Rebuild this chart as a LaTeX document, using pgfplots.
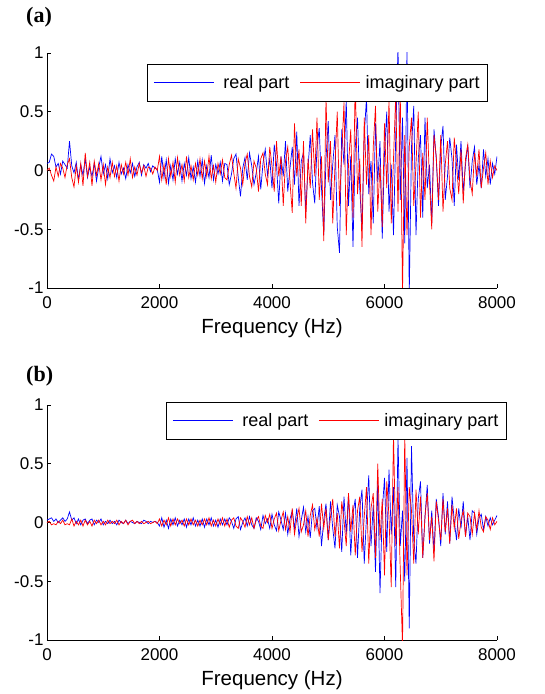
\documentclass[border=0pt]{standalone}
\usepackage{pgfplots}
\usepackage{pgfplotstable}
\pgfplotsset{compat=1.18}
\usepackage{fontspec}
\setmainfont{Liberation Sans}
\newfontfamily\seriffont{Liberation Serif}

\pgfplotstableread{
f ar ai br bi
0 0.06 0.00 0.02 0.00
40 0.07 0.02 0.03 0.01
80 0.14 -0.04 0.04 -0.02
120 0.12 -0.09 0.01 -0.01
160 0.03 0.03 0.03 -0.02
200 0.06 -0.05 0.00 0.01
240 -0.03 0.06 0.02 -0.01
280 0.08 0.02 0.04 0.02
320 0.05 -0.06 0.01 -0.02
360 0.02 0.05 0.03 -0.01
400 0.25 0.10 0.09 -0.02
440 0.04 -0.06 0.02 0.03
480 -0.02 -0.14 0.04 -0.03
520 0.07 0.04 -0.01 0.01
560 -0.08 -0.10 0.03 -0.02
600 0.05 0.06 -0.02 0.02
640 -0.04 -0.13 0.02 -0.03
680 0.10 0.15 0.03 0.02
720 -0.06 -0.05 -0.01 -0.02
760 0.03 0.07 0.02 0.01
800 -0.05 -0.13 0.03 -0.03
840 0.06 0.08 -0.02 0.02
880 -0.09 -0.04 0.02 -0.01
920 0.03 0.06 0.00 0.02
960 0.12 -0.08 0.03 -0.02
1000 -0.03 0.05 -0.02 0.01
1040 0.05 -0.12 0.01 -0.02
1080 -0.07 0.03 -0.01 0.02
1120 0.10 -0.06 0.02 -0.01
1160 -0.02 0.07 -0.01 0.01
1200 0.04 -0.05 0.01 -0.01
1240 -0.06 0.04 -0.02 0.02
1280 0.07 -0.09 0.02 -0.02
1320 -0.03 0.05 0.00 0.01
1360 0.02 -0.03 -0.01 -0.01
1400 -0.07 0.07 0.02 0.02
1440 0.05 -0.04 -0.01 -0.02
1480 -0.02 0.10 0.01 0.01
1520 0.06 -0.06 0.00 0.02
1560 -0.05 0.03 -0.01 -0.01
1600 0.03 -0.04 0.01 0.01
1640 0.07 0.06 0.00 -0.01
1680 -0.04 -0.02 -0.01 0.01
1720 0.05 0.04 0.02 -0.01
1760 0.02 -0.05 0.01 0.00
1800 0.06 0.03 -0.01 0.01
1840 -0.01 0.02 0.01 -0.01
1880 0.04 -0.03 0.00 0.00
1920 0.02 0.03 0.01 0.01
1960 0.01 0.00 0.00 -0.01
2000 -0.10 0.12 -0.03 0.03
2040 0.12 -0.08 0.04 -0.03
2080 -0.06 0.05 -0.04 0.02
2120 0.09 -0.12 0.02 -0.02
2160 -0.11 0.10 -0.05 0.04
2200 0.04 -0.05 0.03 -0.03
2240 -0.08 0.07 -0.02 0.03
2280 0.10 -0.10 0.04 -0.02
2320 -0.03 0.11 -0.03 0.03
2360 0.07 -0.04 0.02 -0.01
2400 -0.09 0.05 -0.02 0.02
2440 0.06 -0.09 0.03 -0.03
2480 -0.04 0.12 -0.04 0.03
2520 0.11 -0.06 0.03 -0.02
2560 -0.07 0.04 -0.02 0.03
2600 0.03 -0.08 0.04 -0.02
2640 -0.10 0.06 -0.03 0.02
2680 0.08 -0.04 0.02 -0.03
2720 -0.05 0.10 -0.03 0.02
2760 0.09 -0.07 0.03 -0.02
2800 -0.11 0.08 -0.04 0.03
2840 0.04 -0.05 0.03 -0.02
2880 -0.06 0.12 -0.02 0.04
2920 0.13 -0.07 0.04 -0.03
2960 -0.08 0.04 -0.03 0.02
3000 0.05 -0.10 0.02 -0.03
3040 -0.03 0.06 -0.04 0.03
3080 0.07 -0.03 0.03 -0.02
3120 -0.09 0.09 -0.02 0.04
3160 0.06 -0.06 0.03 -0.03
3200 0.05 -0.08 -0.02 0.03
3240 -0.12 0.05 0.04 -0.04
3280 -0.03 0.13 0.01 0.02
3320 0.10 -0.02 -0.05 0.04
3360 0.14 -0.15 0.03 -0.03
3400 -0.06 0.10 0.05 -0.05
3440 -0.22 0.02 -0.06 0.04
3480 0.02 -0.12 0.00 0.01
3520 0.11 0.06 0.04 -0.04
3560 -0.08 0.14 -0.03 0.05
3600 0.15 -0.05 0.05 -0.02
3640 0.04 -0.14 -0.02 0.04
3680 -0.12 0.08 -0.05 -0.05
3720 -0.02 0.02 0.04 0.02
3760 0.12 -0.18 0.01 0.05
3800 -0.16 0.10 -0.06 -0.03
3840 0.06 0.15 0.06 -0.05
3880 0.18 -0.03 -0.01 0.06
3920 -0.04 -0.12 0.03 0.00
3960 0.10 0.20 -0.05 0.07
4000 -0.15 0.04 0.07 -0.05
4040 0.22 -0.18 -0.02 0.03
4080 0.05 0.25 -0.07 0.08
4120 -0.28 -0.05 0.09 -0.07
4160 0.12 0.12 0.02 0.02
4200 -0.05 -0.30 -0.06 0.09
4240 0.25 0.08 0.08 -0.06
4280 -0.18 0.20 -0.10 0.05
4320 0.02 -0.10 0.03 -0.08
4360 0.20 -0.36 0.10 0.12
4400 -0.12 0.40 -0.05 -0.10
4440 0.33 -0.05 0.12 0.03
4480 -0.30 0.18 -0.12 0.12
4520 0.08 -0.30 0.02 -0.08
4560 0.15 0.25 0.13 -0.02
4600 -0.35 -0.45 -0.08 0.10
4640 0.02 0.10 0.05 -0.12
4680 0.30 -0.15 -0.13 0.06
4720 -0.10 0.35 0.10 0.15
4760 -0.28 -0.05 0.12 -0.06
4800 0.20 0.45 -0.05 0.04
4840 0.36 -0.25 0.14 -0.12
4880 -0.15 0.12 -0.20 0.16
4920 -0.55 -0.60 0.02 -0.05
4960 0.10 0.62 0.16 0.12
5000 0.42 -0.10 -0.15 -0.15
5040 -0.25 0.25 0.18 0.05
5080 0.05 -0.45 -0.05 0.20
5120 0.30 0.05 -0.22 -0.12
5160 -0.48 0.50 0.15 0.08
5200 -0.70 -0.30 0.05 -0.22
5240 0.35 0.15 -0.25 0.18
5280 0.05 0.58 0.22 0.02
5320 0.60 -0.55 -0.10 -0.20
5360 -0.30 0.05 0.24 0.25
5400 0.12 0.35 -0.28 -0.08
5440 -0.65 -0.40 0.08 0.15
5480 0.20 0.78 0.20 -0.28
5520 0.45 -0.20 -0.30 0.10
5560 -0.15 0.10 0.12 0.22
5600 -0.50 -0.65 0.28 -0.25
5640 0.30 0.45 -0.35 0.05
5680 0.62 -0.12 0.05 0.30
5720 -0.20 0.30 0.40 -0.35
5760 0.08 -0.55 -0.20 0.12
5800 -0.45 0.20 0.15 0.25
5840 0.40 0.55 -0.42 -0.30
5880 -0.10 -0.35 0.35 0.50
5920 0.25 0.05 -0.60 -0.15
5960 -0.58 -0.48 0.10 0.20
6000 0.15 0.40 0.38 -0.45
6040 0.50 -0.15 -0.25 0.35
6080 -0.35 0.60 0.45 0.05
6120 0.05 -0.45 -0.10 -0.55
6160 -0.55 0.10 0.30 0.75
6200 0.30 0.65 -0.55 -0.20
6240 1.05 -0.35 0.72 0.30
6280 -0.25 0.68 -0.20 -0.40
6320 0.45 -1.05 0.10 -1.05
6360 -0.62 0.30 -0.50 0.75
6400 1.05 -0.55 0.55 -0.45
6440 -1.05 0.20 -0.90 0.30
6480 0.20 0.45 0.65 0.10
6520 0.55 -0.30 -0.15 -0.35
6560 -0.55 0.05 -0.35 0.28
6600 0.10 0.50 0.20 -0.10
6640 0.30 -0.40 0.35 0.22
6680 -0.40 0.15 -0.30 -0.30
6720 0.45 -0.25 0.05 0.05
6760 -0.15 0.45 0.32 0.25
6800 0.05 -0.10 -0.18 -0.15
6840 -0.45 -0.50 0.10 0.05
6880 0.35 0.30 -0.25 -0.33
6920 0.10 0.12 0.20 0.18
6960 -0.30 -0.25 0.05 0.02
7000 0.20 0.30 -0.20 -0.15
7040 0.38 -0.35 0.25 0.20
7080 -0.25 0.05 -0.10 -0.08
7120 -0.05 0.25 0.18 0.12
7160 0.28 -0.15 -0.18 -0.18
7200 0.10 -0.25 0.22 0.15
7240 -0.30 0.28 0.02 -0.05
7280 0.22 0.05 -0.15 0.12
7320 -0.08 -0.20 0.12 -0.14
7360 0.25 0.18 -0.05 0.02
7400 -0.18 -0.28 0.18 0.10
7440 0.05 0.10 -0.12 -0.12
7480 0.22 0.22 0.05 0.08
7520 -0.15 -0.08 -0.15 0.05
7560 0.08 -0.20 0.10 -0.10
7600 0.20 0.15 0.08 0.08
7640 -0.12 -0.05 -0.10 -0.06
7680 0.05 0.18 0.04 0.10
7720 -0.15 -0.15 0.07 -0.04
7760 0.18 0.02 -0.06 -0.08
7800 -0.05 0.15 0.05 0.05
7840 0.10 -0.12 -0.03 0.02
7880 -0.12 0.08 0.04 -0.06
7920 0.06 -0.06 -0.02 0.04
7960 -0.03 0.04 0.02 -0.02
8000 0.12 0.00 0.06 0.01
}\spec

\pgfplotsset{
  panel/.style={
    width=450pt, height=235pt, scale only axis,
    anchor=south west,
    xmin=0, xmax=8000, ymin=-1, ymax=1,
    axis x line=bottom, axis y line=left,
    axis line style={-, line width=0.8pt, black},
    tick align=inside, major tick length=4pt,
    tick style={black, line width=0.8pt},
    xtick={0,2000,4000,6000,8000},
    xticklabels={0,2000,4000,6000,8000},
    ytick={-1,-0.5,0,0.5,1},
    yticklabels={-1,-0.5,0,0.5,1},
    tick label style={font=\fontsize{17}{17}\selectfont},
    xticklabel style={yshift=-5pt},
    xlabel={Frequency (Hz)},
    xlabel style={font=\fontsize{20.5}{20.5}\selectfont, yshift=-3pt},
    legend columns=2,
    legend image code/.code={\draw[#1, line width=1.1pt] (0pt,0pt) -- (60pt,0pt);},
    legend style={draw=black, line width=0.8pt, fill=white,
      font=\fontsize{18}{18}\selectfont, inner xsep=6pt, inner ysep=5pt,
      /tikz/every odd column/.append style={column sep=3pt},
      /tikz/every even column/.append style={column sep=8pt},
      cells={anchor=west, minimum height=27pt}},
  },
}

\begin{document}
\begin{tikzpicture}
\useasboundingbox (0pt,0pt) rectangle (544pt,694pt);
\begin{axis}[panel, at={(47pt,406pt)},
  legend style={at={(rel axis cs:0.98,0.955)}, anchor=north east}]
\addplot[blue, line width=0.7pt] table[x=f, y=ar] {\spec};
\addplot[red, line width=0.7pt] table[x=f, y=ai] {\spec};
\legend{\hspace{4pt}real part, imaginary part}
\end{axis}
\node[anchor=north west, inner sep=0pt, font=\seriffont\bfseries\fontsize{22}{22}\selectfont] at (26pt,687pt) {(a)};

\begin{axis}[panel, at={(47pt,54pt)},
  legend style={at={(rel axis cs:1.022,1.013)}, anchor=north east}]
\addplot[blue, line width=0.7pt] table[x=f, y=br] {\spec};
\addplot[red, line width=0.7pt] table[x=f, y=bi] {\spec};
\legend{\hspace{4pt}real part, imaginary part}
\end{axis}
\node[anchor=north west, inner sep=0pt, font=\seriffont\bfseries\fontsize{22}{22}\selectfont] at (26pt,328pt) {(b)};
\end{tikzpicture}
\end{document}
